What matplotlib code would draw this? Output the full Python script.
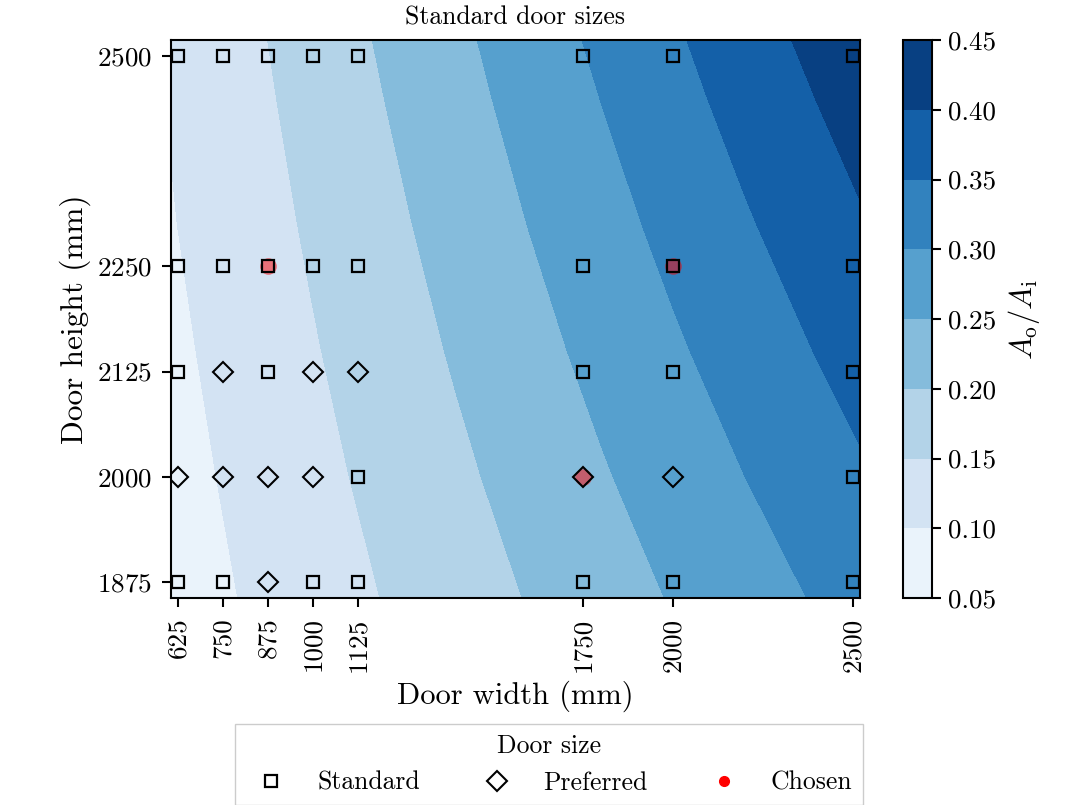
import matplotlib
matplotlib.use("Agg")
import matplotlib.pyplot as plt
import numpy as np
from matplotlib.lines import Line2D
from matplotlib.ticker import FormatStrFormatter

plt.rcParams["font.family"] = "serif"
plt.rcParams["font.serif"] = ["cmr10", "DejaVu Serif"]
plt.rcParams["mathtext.fontset"] = "cm"
plt.rcParams["axes.formatter.use_mathtext"] = True
plt.rcParams["axes.unicode_minus"] = False
plt.rcParams["axes.linewidth"] = 1.5

# door sizes (mm)
widths = [625, 750, 875, 1000, 1125, 1750, 2000, 2500]
heights = [1875, 2000, 2125, 2250, 2500]

# standard / preferred / chosen door sizes (width, height)
standard = [
    (625, 2500), (750, 2500), (875, 2500), (1000, 2500), (1125, 2500),
    (1750, 2500), (2000, 2500), (2500, 2500),
    (625, 2250), (750, 2250), (875, 2250), (1000, 2250), (1125, 2250),
    (1750, 2250), (2000, 2250), (2500, 2250),
    (625, 2125), (875, 2125), (1750, 2125), (2000, 2125), (2500, 2125),
    (1125, 2000), (2500, 2000),
    (625, 1875), (750, 1875), (1000, 1875), (1125, 1875),
    (1750, 1875), (2000, 1875), (2500, 1875),
]
preferred = [
    (750, 2125), (1000, 2125), (1125, 2125),
    (625, 2000), (750, 2000), (875, 2000), (1000, 2000),
    (1750, 2000), (2000, 2000),
    (875, 1875),
]
chosen = [(875, 2250), (2000, 2250), (1750, 2000)]

# opening ratio field A_o/A_i
grid_w = [605, 800, 1000, 1200, 1400, 1600, 1800, 2000, 2200, 2400, 2520]
grid_h = [1856, 2000, 2150, 2300, 2450, 2519]
ratio = [
    [0.0765, 0.1012, 0.1265, 0.1518, 0.1771, 0.2024, 0.2277, 0.2530, 0.2783, 0.3036, 0.3188],
    [0.0835, 0.1091, 0.1363, 0.1636, 0.1909, 0.2181, 0.2454, 0.2727, 0.2999, 0.3272, 0.3436],
    [0.0905, 0.1172, 0.1466, 0.1759, 0.2052, 0.2345, 0.2638, 0.2931, 0.3224, 0.3517, 0.3693],
    [0.0975, 0.1254, 0.1568, 0.1881, 0.2195, 0.2509, 0.2822, 0.3136, 0.3449, 0.3763, 0.3951],
    [0.1025, 0.1336, 0.1670, 0.2004, 0.2338, 0.2672, 0.3006, 0.3340, 0.3674, 0.4008, 0.4209],
    [0.1045, 0.1374, 0.1717, 0.2061, 0.2404, 0.2747, 0.3091, 0.3434, 0.3778, 0.4121, 0.4327],
]
levels = [0.05, 0.10, 0.15, 0.20, 0.25, 0.30, 0.35, 0.40, 0.45]

fig = plt.figure(figsize=(10.91, 8.05), dpi=100)
ax = fig.add_axes([0.1567, 0.2571, 0.6316, 0.6932])
cax = fig.add_axes([0.8277, 0.2571, 0.0266, 0.6932])

cs = ax.contourf(grid_w, grid_h, np.array(ratio), levels=levels, cmap="Blues")

cw, ch = zip(*chosen)
ax.plot(cw, ch, "o", color="red", alpha=0.5, ms=12, mew=0, zorder=3)
sw, sh = zip(*standard)
ax.plot(sw, sh, "s", mfc="none", mec="black", mew=1.6, ms=8.5, zorder=4)
pw, ph = zip(*preferred)
ax.plot(pw, ph, "D", mfc="none", mec="black", mew=1.5, ms=10.5, zorder=4)

ax.set_xlim(605, 2520)
ax.set_ylim(1856, 2519)
ax.set_xticks(widths)
ax.set_xticklabels([str(w) for w in widths], rotation=90)
ax.set_yticks(heights)
ax.tick_params(labelsize=19.5, length=6.5, width=1.5, pad=7.5)
ax.set_xlabel("Door width (mm)", fontsize=22, labelpad=6)
ax.set_ylabel("Door height (mm)", fontsize=22.5, labelpad=4)
ax.set_title("Standard door sizes", fontsize=18.5, pad=11)

cb = fig.colorbar(cs, cax=cax)
cb.set_ticks(levels)
cb.ax.yaxis.set_major_formatter(FormatStrFormatter("%.2f"))
cb.ax.tick_params(labelsize=19.5, length=6.5, width=1.5, pad=5)
cb.outline.set_linewidth(1.5)
cb.set_label(r"$A_\mathrm{o}/A_\mathrm{i}$", fontsize=22, labelpad=7)

handles = [
    Line2D([], [], ls="none", marker="s", mfc="none", mec="black", mew=1.6, ms=8.5),
    Line2D([], [], ls="none", marker="D", mfc="none", mec="black", mew=1.5, ms=10.5),
    Line2D([], [], ls="none", marker="o", color="red", ms=7),
]
fig.legend(handles, ["Standard", "Preferred", "Chosen"], title="Door size",
           loc="upper center", bbox_to_anchor=(0.503, 0.1006), ncol=3,
           fontsize=18.5, title_fontsize=18.5, fancybox=False,
           edgecolor="#cccccc", framealpha=1, borderaxespad=0)

fig.savefig("out.png", dpi=100)
